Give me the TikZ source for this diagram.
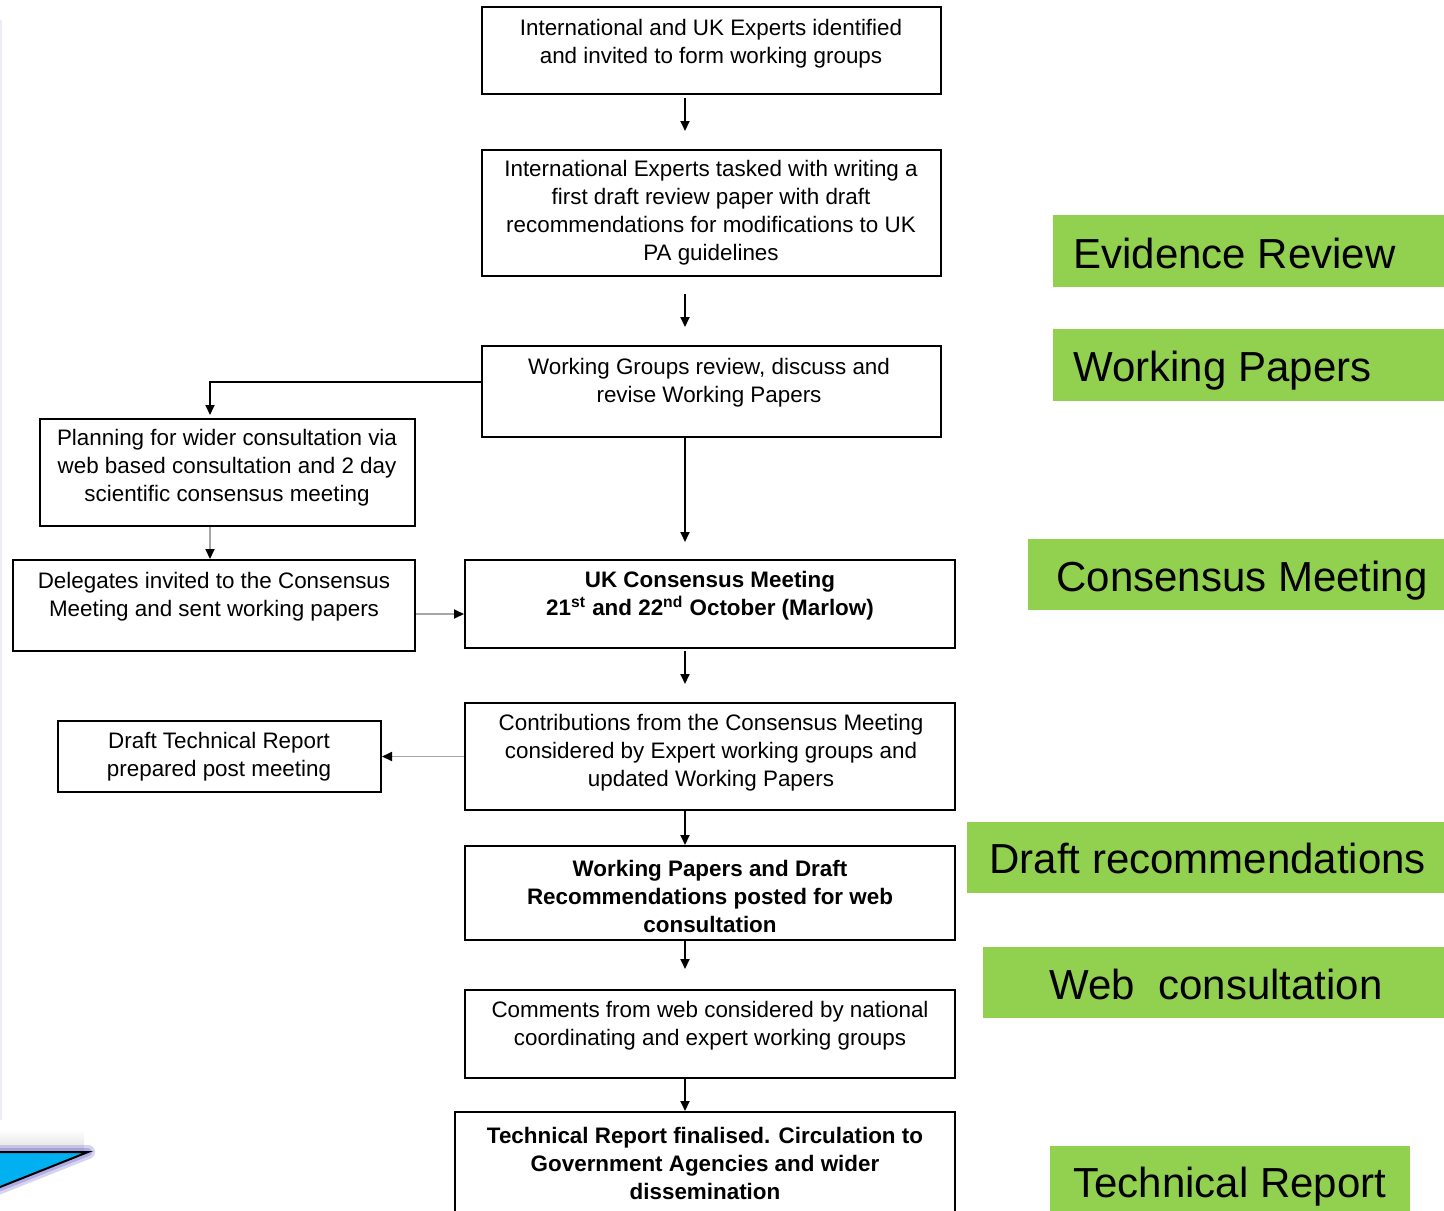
\documentclass[tikz,border=0pt]{standalone}
\usepackage{fontspec}
\setmainfont{Liberation Sans}
\usetikzlibrary{arrows.meta,calc}
\definecolor{lgreen}{HTML}{92D050}
\definecolor{cyanb}{HTML}{00B0F0}
\definecolor{glow}{HTML}{8C84D8}
\definecolor{faint}{HTML}{ECECF6}
\begin{document}
\begin{tikzpicture}[x=0.5pt,y=-0.5pt,
 box/.style={draw=black,line width=1pt,inner sep=0pt},
 txt/.style={align=center,font=\fontsize{11.2}{14}\selectfont,inner sep=0pt},
 btxt/.style={align=center,font=\fontsize{11.2}{14}\selectfont\bfseries,inner sep=0pt},
 arr/.style={-{Triangle[length=5pt,width=4.5pt]},line width=0.9pt},
 garr/.style={-{Triangle[length=5pt,width=4.5pt,color=black]},line width=0.9pt,draw=black!35},
 gbox/.style={fill=lgreen,draw=none,inner sep=0pt},
 gtxt/.style={font=\fontsize{21}{25}\selectfont,inner sep=0pt,anchor=base west}]
\useasboundingbox (0,0) rectangle (1444,1210);

% faint left edge
\draw[faint,line width=1pt] (1,20) -- (1,1120);

% column coordinates
\coordinate (ax) at (685,0);
\coordinate (lx) at (210,0);
\coordinate (ay) at (0,614);
\coordinate (ty) at (0,382);

% boxes
\node[box,minimum width=229.5pt,minimum height=43.5pt] (b1) at (711.5,50.5) {};
\node[txt] (t1) at (711,44) {International and UK Experts identified\\and invited to form working groups};

\node[box,minimum width=229.5pt,minimum height=63pt] (b2) at (711.5,213) {};
\node[txt] (t2) at (711,213) {International Experts tasked with writing a\\first draft review paper with draft\\recommendations for modifications to UK\\PA guidelines};

\node[box,minimum width=229.5pt,minimum height=45.5pt] (b3) at (711.5,391.5) {};
\node[txt] (t3) at (709,383) {Working Groups review, discuss and\\revise Working Papers};

\node[box,minimum width=187.5pt,minimum height=53.5pt] (b4) at (227.5,472.5) {};
\node[txt] (t4) at (227,468) {Planning for wider consultation via\\web based consultation and 2 day\\scientific consensus meeting};

\node[box,minimum width=201pt,minimum height=45.5pt] (b5) at (214,605.5) {};
\node[txt] (t5) at (214,597) {Delegates invited to the Consensus\\Meeting and sent working papers};

\node[box,minimum width=245pt,minimum height=44pt] (b6) at (710,604) {};
\node[btxt] (t6) at (710,596) {UK Consensus Meeting\\21\textsuperscript{st} and 22\textsuperscript{nd} October (Marlow)};

\node[box,minimum width=245pt,minimum height=53.5pt] (b7) at (710,756.5) {};
\node[txt] (t7) at (711,753) {Contributions from the Consensus Meeting\\considered by Expert working groups and\\updated Working Papers};

\node[box,minimum width=161.5pt,minimum height=35.5pt] (b8) at (219.5,756.5) {};
\node[txt] (t8) at (219,757) {Draft Technical Report\\prepared post meeting};

\node[box,minimum width=245pt,minimum height=47pt] (b9) at (710,893) {};
\node[btxt] (t9) at (710,896) {Working Papers and Draft\\Recommendations posted for web\\consultation};

\node[box,minimum width=245pt,minimum height=44pt] (b10) at (710,1034) {};
\node[txt] (t10) at (710,1026) {Comments from web considered by national\\coordinating and expert working groups};

\node[box,minimum width=250pt,minimum height=64pt] (b11) at (705,1176) {};
\node[btxt] (t11) at (705,1163) {Technical Report finalised. Circulation to\\Government Agencies and wider\\dissemination};

% connectors
\draw[arr] ($(b1.south -| ax)+(0,3)$) -- ($(b2.north -| ax)+(0,-18)$);
\draw[arr] ($(b2.south -| ax)+(0,17)$) -- ($(b3.north -| ax)+(0,-18)$);
\draw[arr] (b3.west |- ty) -| ($(b4.north -| lx)+(0,-3)$);
\draw[garr] (b4.south -| lx) -- (b5.north -| lx);
\draw[garr] (b5.east |- ay) -- (b6.west |- ay);
\draw[arr] (b3.south -| ax) -- ($(b6.north -| ax)+(0,-17)$);
\draw[arr] ($(b6.south -| ax)+(0,2)$) -- ($(b7.north -| ax)+(0,-18)$);
\draw[garr] (b7.west) -- (b8.east);
\draw[arr] (b7.south -| ax) -- (b9.north -| ax);
\draw[arr] (b9.south -| ax) -- ($(b10.north -| ax)+(0,-20)$);
\draw[arr] (b10.south -| ax) -- (b11.north -| ax);

% green labels
\node[gbox,minimum width=195.5pt,minimum height=36pt] (g1) at (1248.5,251) {};
\node[gtxt] (l1) at (1073,268) {Evidence Review};
\node[gbox,minimum width=195.5pt,minimum height=36pt] (g2) at (1248.5,365) {};
\node[gtxt] (l2) at (1073,381) {Working Papers};
\node[gbox,minimum width=208pt,minimum height=35.5pt] (g3) at (1236,574.5) {};
\node[gtxt] (l3) at (1056,591) {Consensus Meeting};
\node[gbox,minimum width=238.5pt,minimum height=35.5pt] (g4) at (1205.5,857.5) {};
\node[gtxt] (l4) at (989,873) {Draft recommendations};
\node[gbox,minimum width=230.5pt,minimum height=35.5pt] (g5) at (1213.5,982.5) {};
\node[gtxt] (l5) at (1049,999) {Web\ \ consultation};
\node[gbox,minimum width=180pt,minimum height=40pt] (g6) at (1230,1186) {};
\node[gtxt] (l6) at (1073,1197) {Technical Report};

% blue triangle in the corner
\shade[top color=white,bottom color=black!12] (0,1130) rectangle (84,1150);
\draw[glow,opacity=0.35,line width=7pt,line join=round] (-10,1152) -- (88,1152) -- (-10,1191);
\draw[glow,opacity=0.5,line width=4pt,line join=round] (-10,1152) -- (88,1152) -- (-10,1191);
\filldraw[fill=cyanb,draw=black,line width=1pt] (-10,1152) -- (88,1152) -- (-10,1191) -- cycle;
\end{tikzpicture}
\end{document}
